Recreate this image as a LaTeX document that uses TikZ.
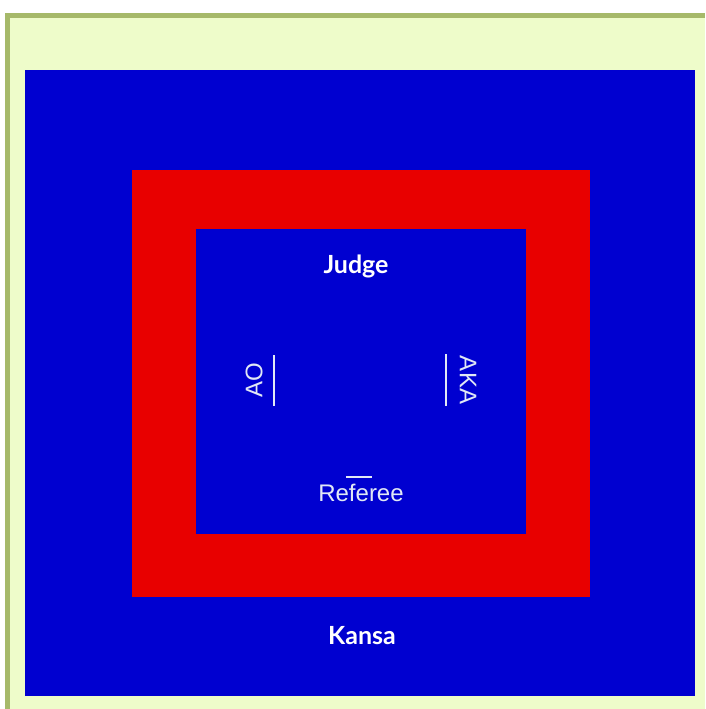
\documentclass[tikz,border=0pt]{standalone}
\usepackage{fontspec}
\setmainfont{Liberation Sans}
\newfontfamily\headfont{Lato}
\definecolor{pagecream}{RGB}{238,252,202}
\definecolor{frameolive}{RGB}{166,185,106}
\definecolor{matblue}{RGB}{0,0,208}
\definecolor{matred}{RGB}{232,0,0}
\definecolor{chalk}{RGB}{225,232,245}

\begin{document}
\begin{tikzpicture}[x=1pt, y=-1pt,
    area/.style={draw=none, inner sep=0pt, anchor=north west},
    title/.style={text=white, font=\headfont\bfseries\fontsize{25}{28}\selectfont},
    spot/.style={text=chalk, font=\fontsize{24}{26}\selectfont},
    mark line/.style={draw=chalk, line width=2.5pt}
]
    \useasboundingbox (0,0) rectangle (705,709);
    \fill[white] (0,0) rectangle (705,709);
    % Page frame
    \fill[pagecream] (5,13) rectangle (705,709);
    \fill[frameolive] (5,13) rectangle (705,18);
    \fill[frameolive] (5,13) rectangle (10,709);

    % Competition areas
    \node[area, fill=matblue, minimum width=670pt, minimum height=626pt] (outer) at (25,70) {};
    \node[area, fill=matred, minimum width=458pt, minimum height=427pt] (safety) at (132,170) {};
    \node[area, fill=matblue, minimum width=330pt, minimum height=305pt] (court) at (196,229) {};

    % Officials
    \node[title] (judge) at (356,266) {Judge};
    \node[title] (kansa) at (362,636) {Kansa};
    \node[spot] (referee) at (361,493) {Referee};
    \node[spot, rotate=90] (ao) at (254,380) {AO};
    \node[spot, rotate=-90] (aka) at (468,380) {AKA};

    % Starting lines
    \coordinate (aoTop) at (274,355);
    \coordinate (aoBot) at (274,406);
    \coordinate (akaTop) at (446,354);
    \coordinate (akaBot) at (446,406);
    \coordinate (refL) at (346,477);
    \coordinate (refR) at (372,477);
    \draw[mark line] (aoTop) -- (aoBot);
    \draw[mark line] (akaTop) -- (akaBot);
    \draw[mark line, line width=2pt] (refL) -- (refR);
\end{tikzpicture}
\end{document}
